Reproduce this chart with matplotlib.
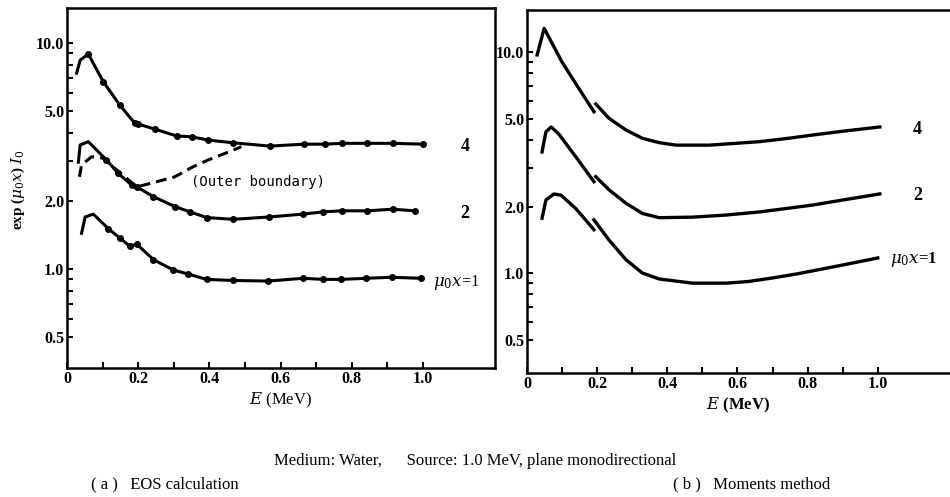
import numpy as np
import matplotlib
matplotlib.use('Agg')
import matplotlib.pyplot as plt
from matplotlib.ticker import FixedLocator, NullFormatter

plt.rcParams['font.family'] = ['Liberation Serif', 'DejaVu Serif']
plt.rcParams['mathtext.fontset'] = 'dejavuserif'

# (a) EOS calculation
eos4_e = [0.027, 0.037, 0.06, 0.102, 0.149, 0.191, 0.20, 0.247, 0.308, 0.35, 0.397,
          0.467, 0.57, 0.666, 0.725, 0.772, 0.842, 0.915, 1.0]
eos4_v = [7.35, 8.4, 8.94, 6.74, 5.3, 4.41, 4.38, 4.16, 3.88, 3.85, 3.72,
          3.62, 3.50, 3.57, 3.57, 3.6, 3.6, 3.6, 3.57]

eos2_e = [0.032, 0.037, 0.06, 0.111, 0.144, 0.182, 0.196, 0.243, 0.303, 0.346, 0.392,
          0.467, 0.568, 0.662, 0.718, 0.772, 0.842, 0.915, 0.977]
eos2_v = [2.97, 3.54, 3.66, 3.04, 2.65, 2.35, 2.31, 2.09, 1.89, 1.79, 1.69,
          1.66, 1.70, 1.75, 1.79, 1.81, 1.81, 1.84, 1.81]

eos1_e = [0.041, 0.051, 0.074, 0.116, 0.149, 0.177, 0.196, 0.243, 0.299, 0.341, 0.392,
          0.467, 0.565, 0.663, 0.72, 0.77, 0.84, 0.912, 0.994]
eos1_v = [1.44, 1.70, 1.75, 1.51, 1.37, 1.26, 1.29, 1.10, 0.99, 0.95, 0.90,
          0.89, 0.885, 0.91, 0.90, 0.90, 0.91, 0.92, 0.91]

outer_e = [0.035, 0.041, 0.069, 0.10, 0.196, 0.233, 0.303, 0.355, 0.397, 0.467, 0.49]
outer_v = [2.56, 2.89, 3.14, 3.10, 2.31, 2.39, 2.56, 2.84, 3.04, 3.36, 3.48]

# (b) Moments method - two pieces per curve, split by NaN
mom4_e = [0.029, 0.049, 0.10, 0.149, 0.191, np.nan, 0.196, 0.234, 0.282, 0.329, 0.377,
          0.425, 0.52, 0.663, 0.74, 0.814, 0.90, 1.006]
mom4_v = [9.7, 12.8, 9.0, 6.8, 5.37, np.nan, 5.82, 5.01, 4.44, 4.07, 3.89,
          3.79, 3.79, 3.93, 4.06, 4.21, 4.38, 4.58]

mom2_e = [0.043, 0.054, 0.069, 0.091, 0.139, 0.191, np.nan, 0.196, 0.234, 0.282, 0.329,
          0.377, 0.472, 0.568, 0.663, 0.74, 0.814, 0.90, 1.006]
mom2_v = [3.53, 4.35, 4.58, 4.25, 3.36, 2.59, np.nan, 2.73, 2.38, 2.07, 1.86,
          1.78, 1.79, 1.83, 1.89, 1.96, 2.03, 2.14, 2.28]

mom1_e = [0.043, 0.054, 0.077, 0.097, 0.139, 0.191, np.nan, 0.191, 0.234, 0.282, 0.329,
          0.377, 0.472, 0.568, 0.63, 0.70, 0.768, 0.891, 1.0]
mom1_v = [1.77, 2.14, 2.28, 2.25, 1.96, 1.57, np.nan, 1.74, 1.41, 1.15, 1.0,
          0.94, 0.90, 0.90, 0.915, 0.95, 0.99, 1.08, 1.17]

ytick_vals = [0.5, 1.0, 2.0, 5.0, 10.0]
ytick_labels = ['0.5', '1.0', '2.0', '5.0', '10.0']
yminor = [0.6, 0.7, 0.8, 0.9, 3, 4, 6, 7, 8, 9]
xtick_vals = [0, 0.2, 0.4, 0.6, 0.8, 1.0]
xtick_labels = ['0', '0.2', '0.4', '0.6', '0.8', '1.0']
xminor = [0.1, 0.3, 0.5, 0.7, 0.9]

fig = plt.figure(figsize=(9.5, 4.97), dpi=100)
ax1 = fig.add_axes([0.0705, 0.2596, 0.4505, 0.7244])
ax2 = fig.add_axes([0.5547, 0.2495, 0.4453, 0.7305])

tickfont = dict(family='Liberation Serif', weight='bold', size=11.5)


def style_axis(ax, ylo, yhi, xhi):
    ax.set_yscale('log')
    ax.set_ylim(ylo, yhi)
    ax.set_xlim(0, xhi)
    ax.yaxis.set_major_locator(FixedLocator(ytick_vals))
    ax.yaxis.set_minor_locator(FixedLocator(yminor))
    ax.yaxis.set_minor_formatter(NullFormatter())
    ax.set_yticklabels(ytick_labels, **tickfont)
    ax.xaxis.set_major_locator(FixedLocator(xtick_vals))
    ax.xaxis.set_minor_locator(FixedLocator(xminor))
    ax.set_xticklabels(xtick_labels, **tickfont)
    ax.tick_params(which='both', direction='in', length=4, width=1.5, pad=2)
    for sp in ax.spines.values():
        sp.set_linewidth(1.8)


style_axis(ax1, 0.365, 14.3, 1.202)
style_axis(ax2, 0.353, 15.5, 1.206)
ax2.spines['right'].set_visible(False)

# left panel curves with dots
lw = 2.2
ax1.plot(eos4_e, eos4_v, color='black', lw=lw, marker='o', ms=4, markevery=range(2, len(eos4_e)))
ax1.plot(eos2_e, eos2_v, color='black', lw=lw, marker='o', ms=4, markevery=range(3, len(eos2_e)))
ax1.plot(eos1_e, eos1_v, color='black', lw=lw, marker='o', ms=4, markevery=range(3, len(eos1_e)))
ax1.plot(outer_e, outer_v, color='black', lw=lw, ls=(0, (3.5, 2)))

# right panel curves
ax2.plot(mom4_e, mom4_v, color='black', lw=2.4)
ax2.plot(mom2_e, mom2_v, color='black', lw=2.4)
ax2.plot(mom1_e, mom1_v, color='black', lw=2.4)

# curve labels
lblfont = dict(family='Liberation Serif', weight='bold', size=13)
ax1.text(1.118, 3.47, '4', ha='center', va='center', **lblfont)
ax1.text(1.118, 1.77, '2', ha='center', va='center', **lblfont)
ax1.text(1.028, 0.875, r'$\mu_0x$=1', ha='left', va='center', fontsize=12, family='Liberation Serif')
ax1.text(0.537, 2.43, '(Outer boundary)', ha='center', va='center', fontsize=10,
         family='DejaVu Sans Mono')

ax2.text(1.114, 4.44, '4', ha='center', va='center', **lblfont)
ax2.text(1.114, 2.25, '2', ha='center', va='center', **lblfont)
ax2.text(1.034, 1.15, r'$\mu_0x$=1', ha='left', va='center', fontsize=12,
         family='Liberation Serif', weight='bold')

ax1.set_xlabel(r'$E$ (MeV)', fontsize=12, labelpad=3)
ax2.set_xlabel(r'$E$ (MeV)', fontsize=12, labelpad=3, fontweight='bold')
fig.text(0.019, 0.618, r'exp ($\mu_0x$) $I_0$', rotation=90, ha='center', va='center',
         fontsize=11, fontweight='bold')

# caption
fig.text(0.5, 0.072, 'Medium: Water,      Source: 1.0 MeV, plane monodirectional',
         ha='center', va='center', fontsize=12)
fig.text(0.096, 0.026, '( a )   EOS calculation', ha='left', va='center', fontsize=12)
fig.text(0.708, 0.026, '( b )   Moments method', ha='left', va='center', fontsize=12)

fig.savefig('out.png', dpi=100)
